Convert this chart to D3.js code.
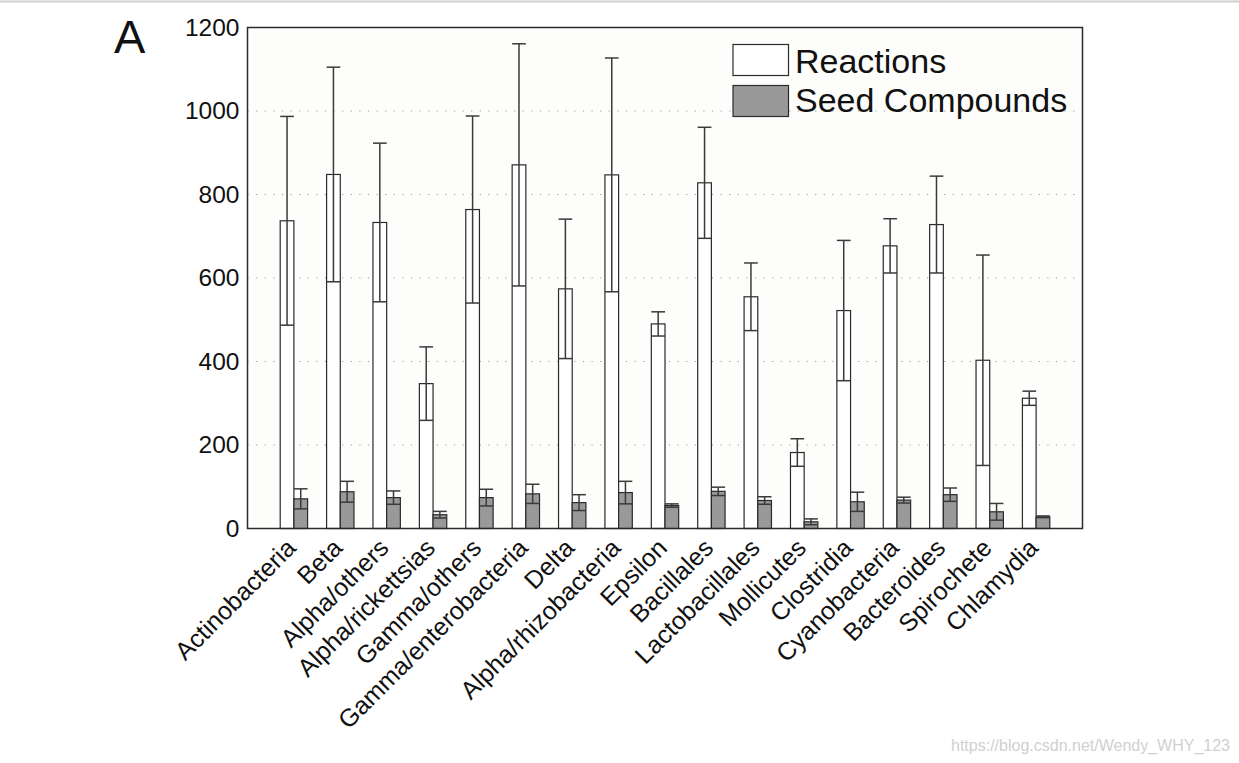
<!DOCTYPE html>
<html><head><meta charset="utf-8">
<script src="https://cdn.jsdelivr.net/npm/d3@7"></script>
<style>body{margin:0;background:#fff;font-family:"Liberation Sans",Arial,sans-serif}</style>
</head><body><svg id="c" width="1239" height="763"></svg>
<script>
const categories = ["Actinobacteria","Beta","Alpha/others","Alpha/rickettsias","Gamma/others","Gamma/enterobacteria","Delta","Alpha/rhizobacteria","Epsilon","Bacillales","Lactobacillales","Mollicutes","Clostridia","Cyanobacteria","Bacteroides","Spirochete","Chlamydia"];
const reactions   = [737, 848, 733, 347, 764, 871, 574, 847, 490, 828, 555, 182, 522, 677, 728, 403, 312];
const reactionsSD = [250, 257, 190,  88, 224, 290, 167, 280,  29, 133,  81,  33, 168,  65, 116, 252,  17];
const seeds   = [71, 88, 74, 33, 74, 83, 62, 86, 55, 89, 67, 16, 64, 68, 81, 40, 28];
const seedsSD = [24, 25, 16,  8, 20, 23, 19, 27,  4, 10,  9,  7, 23,  7, 16, 20,  2];
const yTicks = [0, 200, 400, 600, 800, 1000, 1200];
const seriesNames = ["Reactions", "Seed Compounds"];
const seriesFill = ["#ffffff", "#999999"];

const svg = d3.select("#c");
const L = 247.5, R = 1082.5, T = 27.5, B = 528.5;
const x = d3.scaleLinear().domain([0, categories.length + 1]).range([L, R]);
const y = d3.scaleLinear().domain([0, 1200]).range([B, T]);
const bw = 0.295;

svg.append("line").attr("x1",0).attr("x2",1239).attr("y1",1.5).attr("y2",1.5).attr("stroke","#cfcfcf").attr("stroke-width",2);
svg.append("rect").attr("x",L).attr("y",T).attr("width",R-L).attr("height",B-T).attr("fill","#fdfdfb");

// grid
svg.append("g").selectAll("line").data(yTicks.filter(d=>d>0&&d<1200)).join("line")
  .attr("x1",L).attr("x2",R).attr("y1",d=>y(d)).attr("y2",d=>y(d))
  .attr("stroke","#9a9a9a").attr("stroke-width",1).attr("stroke-dasharray","1.2,7.4");

// y axis
const yAxis = d3.axisLeft(y).tickValues(yTicks).tickSize(0).tickPadding(8).tickFormat(d3.format("d"));
const ga = svg.append("g").attr("transform",`translate(${L},0)`).call(yAxis);
ga.select(".domain").remove();
ga.selectAll("text").attr("font-size",24.5).attr("fill","#111").attr("font-family","Liberation Sans, Arial, sans-serif");

// bars
const series = [
  {vals: reactions, sd: reactionsSD, off: -bw/2, fill: seriesFill[0]},
  {vals: seeds, sd: seedsSD, off: bw/2, fill: seriesFill[1]}
];
series.forEach(s => {
  svg.append("g").selectAll("rect").data(s.vals).join("rect")
    .attr("x",(d,i)=>x(i+1+s.off-bw/2)).attr("width",x(bw)-x(0))
    .attr("y",d=>y(d)).attr("height",d=>y(0)-y(d))
    .attr("fill",s.fill).attr("stroke","#2a2a2a").attr("stroke-width",1.2);
});
series.forEach(s => {
  const g = svg.append("g").attr("stroke","#3a3a3a").attr("stroke-width",1.5);
  s.vals.forEach((d,i) => {
    const cx = x(i+1+s.off), x0 = x(i+1+s.off-bw/2), x1 = x(i+1+s.off+bw/2);
    g.append("line").attr("x1",cx).attr("x2",cx).attr("y1",y(d-s.sd[i])).attr("y2",y(d+s.sd[i]));
    g.append("line").attr("x1",x0).attr("x2",x1).attr("y1",y(d+s.sd[i])).attr("y2",y(d+s.sd[i]));
    g.append("line").attr("x1",x0).attr("x2",x1).attr("y1",y(d-s.sd[i])).attr("y2",y(d-s.sd[i]));
  });
});

// frame
svg.append("rect").attr("x",L).attr("y",T).attr("width",R-L).attr("height",B-T).attr("fill","none").attr("stroke","#2a2a2a").attr("stroke-width",1.5);

// x labels
const xAxis = d3.axisBottom(x).tickValues(d3.range(1, categories.length+1)).tickSize(0).tickFormat(d=>categories[d-1]);
const gx = svg.append("g").attr("transform",`translate(0,${B})`).call(xAxis);
gx.select(".domain").remove();
gx.selectAll("text").attr("font-size",25).attr("fill","#111").attr("font-family","Liberation Sans, Arial, sans-serif")
  .attr("text-anchor","end").attr("dy",0).attr("y",0)
  .attr("transform","translate(3,21) rotate(-45)");

// legend
const lg = svg.append("g");
seriesNames.forEach((n,i) => {
  lg.append("rect").attr("x",733).attr("y",44.5+i*41).attr("width",55.5).attr("height",31).attr("fill",seriesFill[i]).attr("stroke","#2a2a2a").attr("stroke-width",1.2);
  lg.append("text").attr("x",795).attr("y",73+i*39).attr("font-size",34).attr("fill","#111").text(n);
});

svg.append("text").attr("x",114).attr("y",53).attr("font-size",47).attr("fill","#111").text("A");
svg.append("text").attr("x",1230).attr("y",751).attr("text-anchor","end").attr("font-size",16).attr("fill","#d0d0d0").text("https://blog.csdn.net/Wendy_WHY_123");
</script></body></html>
